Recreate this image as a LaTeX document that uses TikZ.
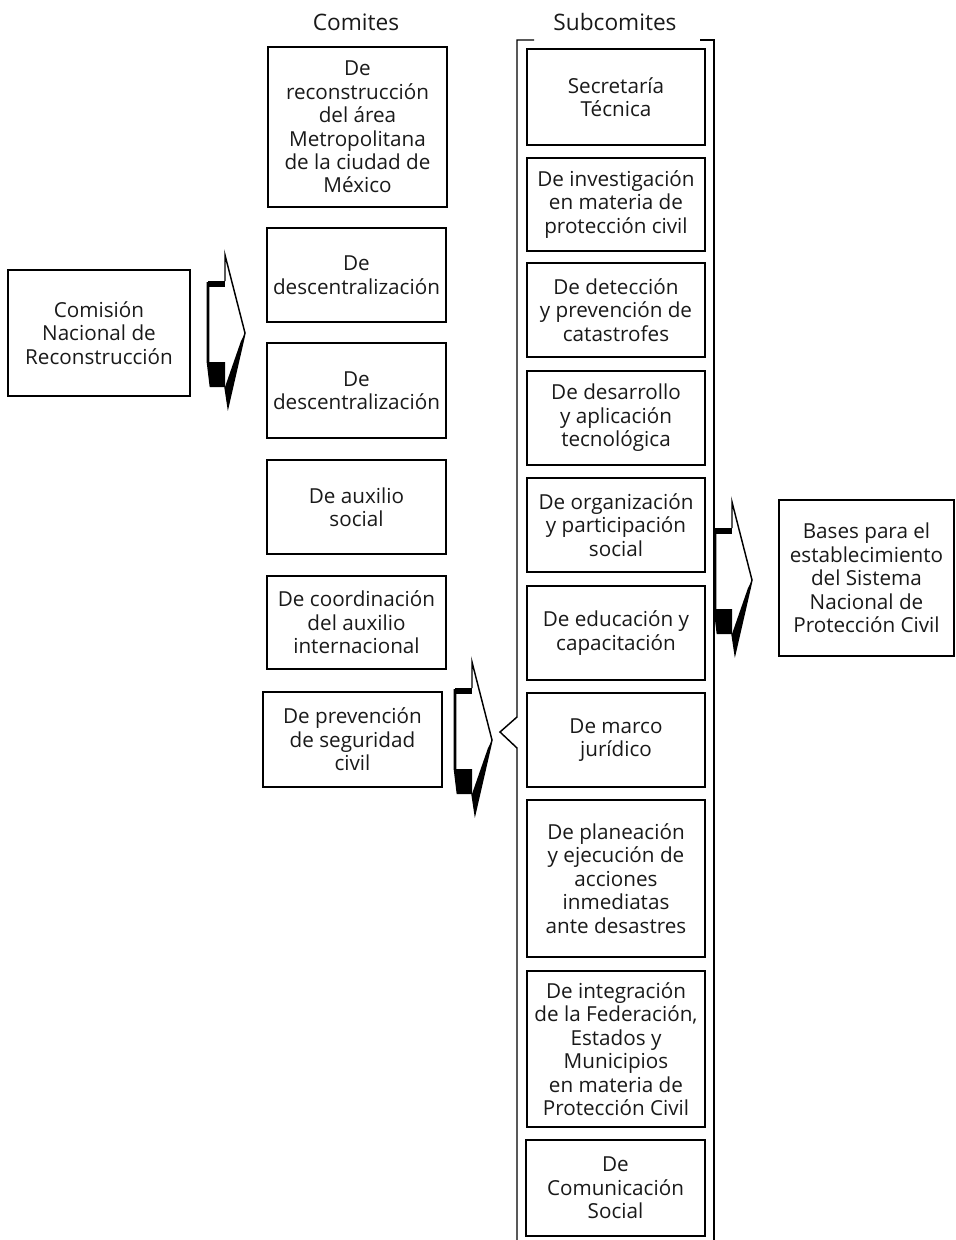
\documentclass[tikz,border=0pt]{standalone}
\usepackage{fontspec}
\setmainfont{Open Sans}
\begin{document}
\begin{tikzpicture}[x=0.75pt,y=-0.75pt,
  box/.style={draw=black,line width=1.1pt,align=center,inner sep=0pt,
    font=\fontsize{15.5}{17.6}\selectfont,text=black!90},
  title/.style={font=\fontsize{17}{19}\selectfont,text=black!90},
  bracketline/.style={line width=1.1pt},
  arrowthin/.style={line width=1.1pt,line join=miter},
  arrowthick/.style={line width=2pt}]
\useasboundingbox (0,0) rectangle (956,1240);
\newcommand\mybox[6]{\node[box,minimum width={(#3-#2)*0.75pt},minimum height={(#5-#4)*0.75pt}] (#1) at ({(#2+#3)/2},{(#4+#5)/2}) {#6};}
\newcommand\blockarrow[2]{%
  \begin{scope}[shift={(#1,#2)}]
    \draw[arrowthin] (17,26) -- (17,0) -- (37,78) -- (20,152) -- (17,132);
    \draw[arrowthick] (0,27) -- (0,107) -- (3,132);
    \fill (0,26) rectangle (17,32);
    \fill (0,107) -- (17,107) -- (17,132) -- (3,132) -- cycle;
    \fill (37,78) -- (20,152) -- (17,132) -- (33,86) -- cycle;
  \end{scope}}

% titles
\node[title] (tc) at (356,22) {Comites};
\node[title] (ts) at (615,22) {Subcomites};

% left box
\mybox{com}{8}{190}{270}{396}{Comisión\\Nacional de\\Reconstrucción}

% comites
\mybox{c1}{268}{447}{47}{207}{De\\reconstrucción\\del área\\Metropolitana\\de la ciudad de\\México}
\mybox{c2}{267}{446}{228}{322}{De\\descentralización}
\mybox{c3}{267}{446}{343}{438}{De\\descentralización}
\mybox{c4}{267}{446}{460}{554}{De auxilio\\social}
\mybox{c5}{267}{446}{576}{669}{De coordinación\\del auxilio\\internacional}
\mybox{c6}{263}{442}{692}{787}{De prevención\\de seguridad\\civil}

% subcomites
\mybox{s1}{527}{705}{49}{145}{Secretaría\\Técnica}
\mybox{s2}{527}{705}{158}{251}{De investigación\\en materia de\\protección civil}
\mybox{s3}{527}{705}{263}{357}{De detección\\y prevención de\\catastrofes}
\mybox{s4}{527}{705}{371}{465}{De desarrollo\\y aplicación\\tecnológica}
\mybox{s5}{527}{705}{478}{572}{De organización\\y participación\\social}
\mybox{s6}{527}{705}{586}{680}{De educación y\\capacitación}
\mybox{s7}{527}{705}{693}{787}{De marco\\jurídico}
\mybox{s8}{527}{705}{800}{957}{De planeación\\y ejecución de\\acciones\\inmediatas\\ante desastres}
\mybox{s9}{527}{705}{971}{1127}{De integración\\de la Federación,\\Estados y\\Municipios\\en materia de\\Protección Civil}
\mybox{s10}{526}{705}{1140}{1236}{De\\Comunicación\\Social}

% right box
\mybox{bases}{779}{954}{500}{656}{Bases para el\\establecimiento\\del Sistema\\Nacional de\\Protección Civil}

% bracket
\coordinate (bl0) at (534,40);
\coordinate (bl1) at (517,1240);
\draw[bracketline] (bl0) -- (517,40) -- (517,717) -- (500,732) -- (517,748) -- (bl1);
\coordinate (br0) at (700,40);
\coordinate (br1) at (714,1240);
\draw[bracketline] (br0) -- (714,40) -- (br1);

% block arrows
\blockarrow{208}{255}
\blockarrow{455}{662}
\blockarrow{715}{502}
\end{tikzpicture}
\end{document}
